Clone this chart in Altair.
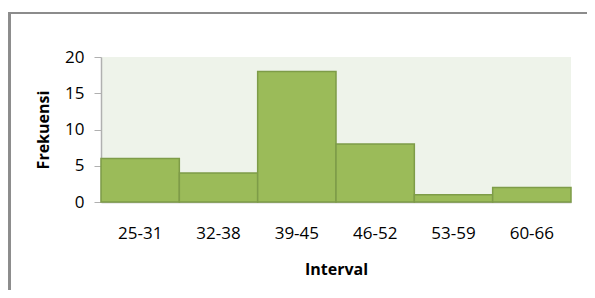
import altair as alt
import pandas as pd

categories = ["25-31", "32-38", "39-45", "46-52", "53-59", "60-66"]
frekuensi = [6, 4, 18, 8, 1, 2]

df = pd.DataFrame({"Interval": categories, "Frekuensi": frekuensi})

FONT = "Open Sans"

bars = alt.Chart(df).mark_bar(
    fill="#9BBB59", stroke="#7E9C48", strokeWidth=1.5
).encode(
    x=alt.X("Interval:N", sort=categories,
            scale=alt.Scale(paddingInner=0, paddingOuter=0),
            axis=alt.Axis(title="Interval", labelAngle=0, ticks=False,
                          labelPadding=23, titlePadding=20,
                          domainColor="#B0B0B0", domainWidth=1.5)),
    y=alt.Y("Frekuensi:Q", scale=alt.Scale(domain=[0, 20], nice=False),
            axis=alt.Axis(title="Frekuensi", values=[0, 5, 10, 15, 20],
                          grid=False, tickSize=7, labelPadding=10,
                          titlePadding=13, domainColor="#B0B0B0",
                          tickColor="#B0B0B0", domainWidth=1.5))
)

frame = alt.Chart(df).mark_rect(
    fill=None, stroke="#8C8C8C", strokeWidth=2
).encode(
    x=alt.value(-91.5), x2=alt.value(600),
    y=alt.value(-44), y2=alt.value(300)
)

chart = alt.layer(bars, frame).properties(
    width=470, height=145,
    autosize=alt.AutoSizeParams(type="none"),
    padding={"left": 93, "top": 49, "right": 16, "bottom": 88},
    background="white"
).configure_view(
    fill="#EEF3EA", stroke=None
).configure_axis(
    labelFont=FONT, titleFont=FONT, labelFontSize=17, titleFontSize=16,
    labelColor="#000000", titleColor="#000000", titleFontWeight="bold"
)

chart.save("out.html", embed_options={"renderer": "svg", "actions": False})
